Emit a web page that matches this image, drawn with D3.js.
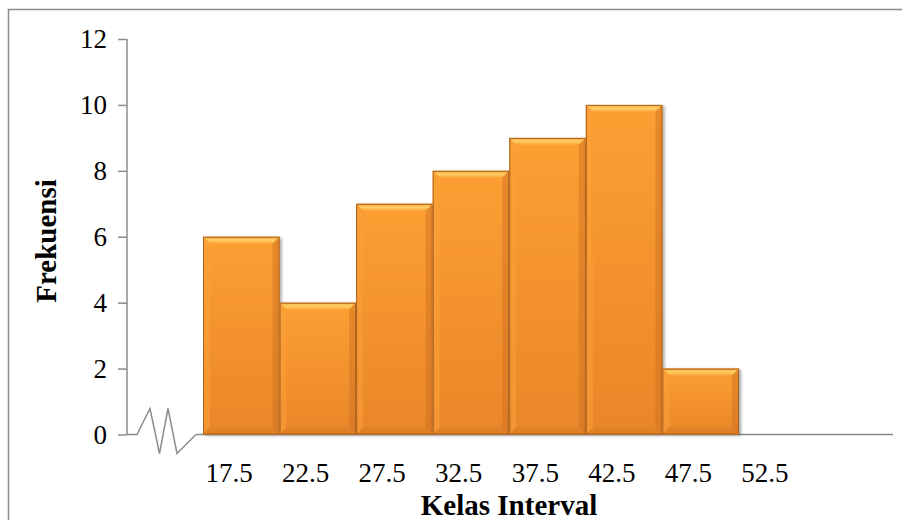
<!DOCTYPE html>
<html>
<head>
<meta charset="utf-8">
<script src="https://cdn.jsdelivr.net/npm/d3@7"></script>
<style>
  html, body { margin: 0; padding: 0; background: #fff; }
  svg { display: block; }
</style>
</head>
<body>
<svg id="chart" width="902" height="520"></svg>
<script>
// ---- data ----
const classLabels = ["17.5", "22.5", "27.5", "32.5", "37.5", "42.5", "47.5", "52.5"];
const barClasses  = ["17.5", "22.5", "27.5", "32.5", "37.5", "42.5", "47.5"];
const frequencies = [6, 4, 7, 8, 9, 10, 2];
const yTicks      = [0, 2, 4, 6, 8, 10, 12];
const xTitle = "Kelas Interval";
const yTitle = "Frekuensi";

const svg = d3.select("#chart");
const W = 902, H = 520;
const tickFont = "'Liberation Serif', 'Times New Roman', serif";

// frame
svg.append("rect").attr("x", 8.5).attr("y", 9.5).attr("width", W + 10).attr("height", H + 10)
  .attr("fill", "#fff").attr("stroke", "#8c8c8c").attr("stroke-width", 1.5);

const y = d3.scaleLinear().domain([0, 12]).range([434.5, 39]);
const x = d3.scaleBand().domain(classLabels).range([203, 203 + 8 * 76.57]).padding(0);
const axisX = 127;

const defs = svg.append("defs");
const gBody = defs.append("linearGradient").attr("id", "gBody").attr("x1", 0).attr("y1", 0).attr("x2", 0).attr("y2", 1);
gBody.append("stop").attr("offset", "0%").attr("stop-color", "#fd9f32");
gBody.append("stop").attr("offset", "100%").attr("stop-color", "#ea862a");
const gTop = defs.append("linearGradient").attr("id", "gTop").attr("x1", 0).attr("y1", 0).attr("x2", 0).attr("y2", 1);
gTop.append("stop").attr("offset", "0%").attr("stop-color", "#f7a43c");
gTop.append("stop").attr("offset", "45%").attr("stop-color", "#ffcf63");
gTop.append("stop").attr("offset", "100%").attr("stop-color", "#fca53a");
const shadow = defs.append("filter").attr("id", "shadow").attr("x", "-10%").attr("y", "-10%").attr("width", "130%").attr("height", "130%");
shadow.append("feDropShadow").attr("dx", 2).attr("dy", 1).attr("stdDeviation", 1.6)
  .attr("flood-color", "#000").attr("flood-opacity", 0.35);

// axes
const yAxisG = svg.append("g").attr("transform", `translate(${axisX},0)`)
  .call(d3.axisLeft(y).tickValues(yTicks).tickSize(9).tickPadding(11).tickFormat(d3.format("d")));
yAxisG.select(".domain").attr("d", `M0,${y(12)}V${y(0)}`).attr("stroke", "#8c8c8c").attr("stroke-width", 1.5);
yAxisG.selectAll(".tick line").attr("stroke", "#8c8c8c").attr("stroke-width", 1.5);
yAxisG.selectAll(".tick text").attr("font-family", tickFont).attr("font-size", 27)
  .attr("fill", "#000").attr("dy", "0.33em");

// x axis baseline with break symbol
const y0 = y(0);
const brk = [[axisX, y0], [137, y0], [150, y0 - 26], [159.5, y0 + 19], [168, y0 - 26], [177, y0 + 19], [196, y0]];
svg.append("path").attr("d", d3.line()(brk)).attr("fill", "none")
  .attr("stroke", "#8c8c8c").attr("stroke-width", 1.5).attr("stroke-linejoin", "miter");
svg.append("line").attr("x1", 196).attr("x2", 893).attr("y1", y0).attr("y2", y0)
  .attr("stroke", "#8c8c8c").attr("stroke-width", 1.5);

// bars
const bars = svg.append("g");
const bw = 7; // bevel width
barClasses.forEach((c, i) => {
  const x0 = x(c), x1 = x(c) + x.bandwidth();
  const yt = y(frequencies[i]), yb = y(0);
  const g = bars.append("g");
  g.append("rect").attr("x", x0).attr("y", yt).attr("width", x1 - x0).attr("height", yb - yt)
    .attr("fill", "url(#gBody)").attr("filter", "url(#shadow)");
  // top bevel
  g.append("polygon").attr("points", [[x0, yt], [x1, yt], [x1 - bw, yt + bw], [x0 + bw, yt + bw]].join(" "))
    .attr("fill", "url(#gTop)");
  // left bevel
  g.append("polygon").attr("points", [[x0, yt], [x0 + bw, yt + bw], [x0 + bw, yb - bw], [x0, yb]].join(" "))
    .attr("fill", "#f9a13a").attr("opacity", 0.55);
  // right bevel
  g.append("polygon").attr("points", [[x1, yt], [x1, yb], [x1 - bw, yb - bw], [x1 - bw, yt + bw]].join(" "))
    .attr("fill", "#c96f1f").attr("opacity", 0.45);
  // bottom bevel
  g.append("polygon").attr("points", [[x0, yb], [x1, yb], [x1 - bw, yb - bw], [x0 + bw, yb - bw]].join(" "))
    .attr("fill", "#d67a24").attr("opacity", 0.5);
  g.append("rect").attr("x", x0 + 0.5).attr("y", yt + 0.5).attr("width", x1 - x0 - 1).attr("height", yb - yt - 1)
    .attr("fill", "none").attr("stroke", "#a9621f").attr("stroke-width", 1);
});

// x labels
svg.append("g").selectAll("text").data(classLabels).join("text")
  .attr("x", d => x(d) + 26).attr("y", 482)
  .attr("text-anchor", "middle").attr("font-family", tickFont).attr("font-size", 27).attr("fill", "#000")
  .text(d => d);

// titles
svg.append("text").attr("x", 509).attr("y", 515).attr("text-anchor", "middle")
  .attr("font-family", tickFont).attr("font-weight", "bold").attr("font-size", 29).attr("fill", "#000")
  .text(xTitle);
svg.append("text").attr("transform", "translate(56,241) rotate(-90)").attr("text-anchor", "middle")
  .attr("font-family", tickFont).attr("font-weight", "bold").attr("font-size", 29).attr("fill", "#000")
  .text(yTitle);
</script>
</body>
</html>
